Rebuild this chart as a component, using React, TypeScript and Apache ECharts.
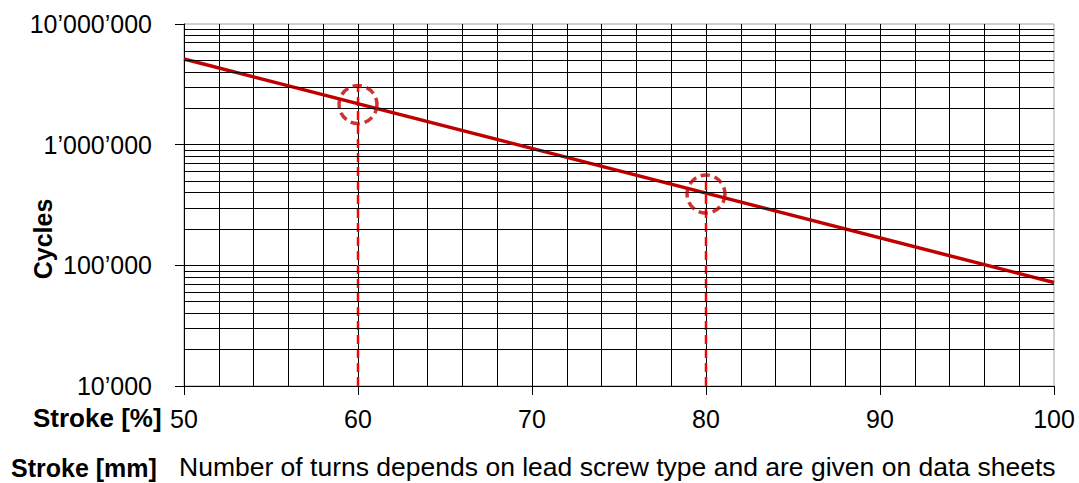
import React, { useEffect, useRef } from "react";
import * as echarts from "echarts";

// ---- data ----
const strokePct = [50, 100];
const cycles = [5130000, 72000];

const markedStroke = [60, 80];
const markedCycles = [2150000, 390000];
const dropTop = [3000000, 540000];
const dropBottom = 10000;

const yTicks = [10000, 100000, 1000000, 10000000];
const yTickLabels = ["10’000", "100’000", "1’000’000", "10’000’000"];
const minorMultipliers = [2, 3, 4, 5, 6, 7, 8, 9];

const xMin = 50;
const xMax = 100;
const xLabelStep = 10;
const xGridSplit = 5;

const FONT = "'Liberation Sans', Arial, Helvetica, sans-serif";

export default function App() {
  const ref = useRef<HTMLDivElement>(null);

  useEffect(() => {
    document.body.style.margin = "0";
    if (!ref.current) return;
    const chart = echarts.init(ref.current, undefined, { renderer: "svg" });

    const minorValues: number[] = [];
    yTicks.slice(0, -1).forEach((d) => minorMultipliers.forEach((m) => minorValues.push(d * m)));

    const labelFor = (v: number) => {
      const i = yTicks.findIndex((t) => Math.abs(Math.log10(t) - Math.log10(v)) < 1e-6);
      return i >= 0 ? yTickLabels[i] : "";
    };

    const dropSeries = markedStroke.map((x, i) => ({
      type: "line",
      data: [
        [x, dropBottom],
        [x, dropTop[i]],
      ],
      symbol: "none",
      silent: true,
      z: 3,
      lineStyle: { color: "#ff0000", width: 2.5, type: [9, 5] },
    }));

    chart.setOption({
      animation: false,
      grid: {
        left: 184,
        right: 25,
        top: 24,
        bottom: 97,
        show: true,
        borderColor: "#a0a0a0",
        borderWidth: 1,
      },
      xAxis: {
        type: "value",
        min: xMin,
        max: xMax,
        interval: xLabelStep,
        axisLine: { show: true, lineStyle: { color: "#000", width: 1 } },
        axisTick: { show: true, length: 9, lineStyle: { color: "#000", width: 1 } },
        axisLabel: { color: "#000", fontSize: 25, fontFamily: FONT, margin: 20 },
        splitLine: { show: true, showMaxLine: false, lineStyle: { color: "#000", width: 1 } },
        minorTick: { show: false, splitNumber: xGridSplit },
        minorSplitLine: { show: true, lineStyle: { color: "#000", width: 1 } },
      },
      yAxis: {
        type: "log",
        logBase: 10,
        min: yTicks[0],
        max: yTicks[yTicks.length - 1],
        axisLine: { show: true, lineStyle: { color: "#000", width: 1 } },
        axisTick: { show: true, length: 9, lineStyle: { color: "#000", width: 1 } },
        axisLabel: {
          color: "#000",
          fontSize: 25,
          fontFamily: FONT,
          margin: 32,
          formatter: (v: number) => labelFor(v),
        },
        splitLine: { show: true, showMaxLine: false, lineStyle: { color: "#000", width: 1 } },
      },
      series: [
        {
          type: "line",
          data: [],
          silent: true,
          z: 1,
          markLine: {
            silent: true,
            symbol: ["none", "none"],
            label: { show: false },
            lineStyle: { color: "#000", width: 1, type: "solid" },
            data: minorValues.map((v) => ({ yAxis: v })),
          },
        },
        {
          type: "line",
          data: strokePct.map((x, i) => [x, cycles[i]]),
          symbol: "none",
          z: 4,
          lineStyle: { color: "#c00000", width: 3.5 },
        },
        ...dropSeries,
        {
          type: "scatter",
          data: markedStroke.map((x, i) => [x, markedCycles[i]]),
          symbol: "circle",
          symbolSize: 38,
          z: 5,
          itemStyle: {
            color: "rgba(0,0,0,0)",
            borderColor: "#c00000",
            borderWidth: 3.5,
            borderType: [9, 5],
          },
        },
      ],
      graphic: [
        {
          type: "text",
          x: 43,
          y: 239,
          rotation: Math.PI / 2,
          style: {
            text: "Cycles",
            fontSize: 25,
            fontWeight: "bold",
            fontFamily: FONT,
            fill: "#000",
            align: "center",
            verticalAlign: "middle",
          },
        },
        {
          type: "text",
          x: 33,
          y: 418,
          style: {
            text: "Stroke [%]",
            fontSize: 26,
            fontWeight: "bold",
            fontFamily: FONT,
            fill: "#000",
            align: "left",
            verticalAlign: "middle",
          },
        },
        {
          type: "text",
          x: 11,
          y: 468,
          style: {
            text: "Stroke [mm]",
            fontSize: 25,
            fontWeight: "bold",
            fontFamily: FONT,
            fill: "#000",
            align: "left",
            verticalAlign: "middle",
          },
        },
        {
          type: "text",
          x: 179,
          y: 467,
          style: {
            text: "Number of turns depends on lead screw type and are given on data sheets",
            fontSize: 26.5,
            fontFamily: FONT,
            fill: "#000",
            align: "left",
            verticalAlign: "middle",
          },
        },
      ],
    });

    return () => chart.dispose();
  }, []);

  return (
    <div
      ref={ref}
      style={{ position: "absolute", left: 0, top: 0, width: 1079, height: 483 }}
    />
  );
}
